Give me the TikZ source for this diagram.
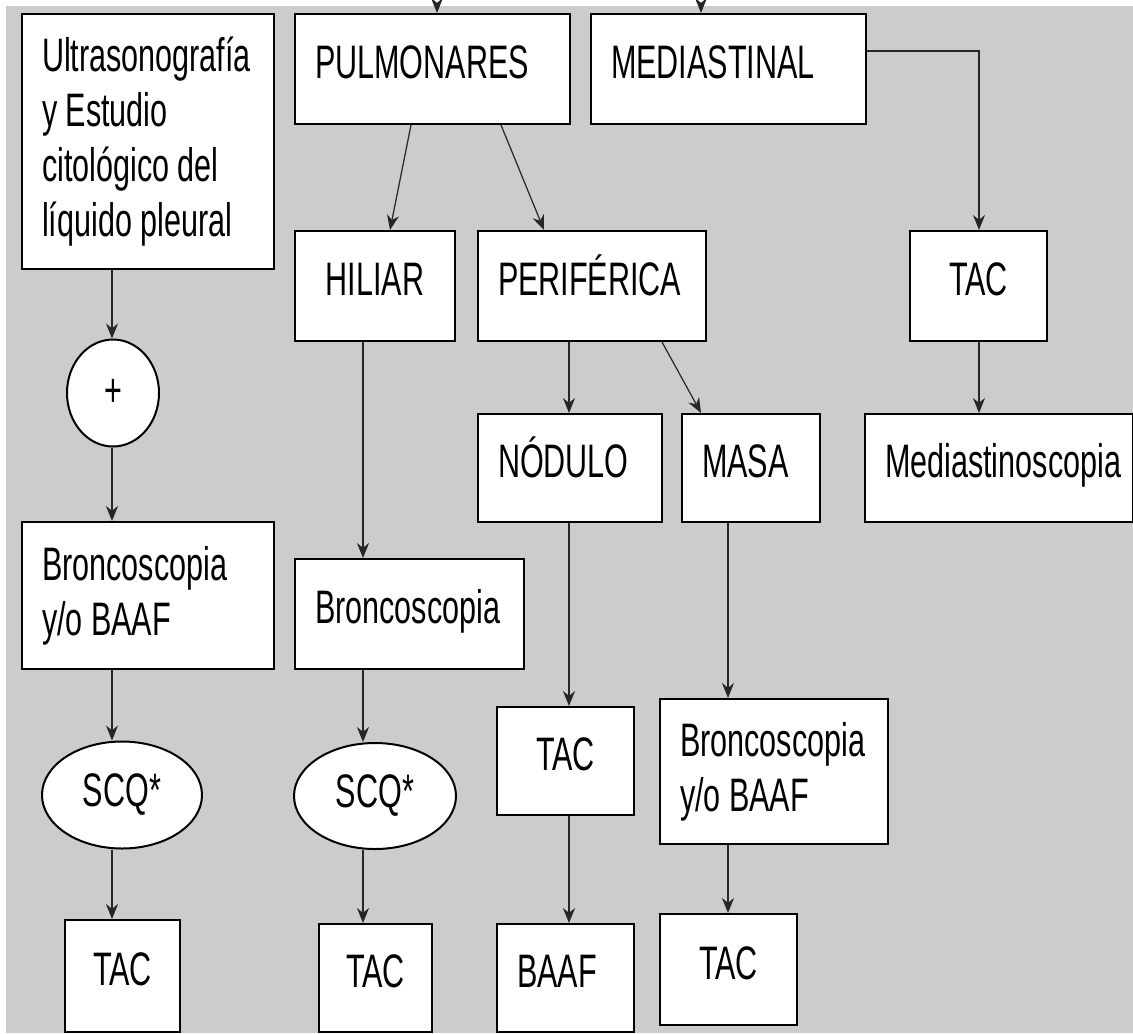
\documentclass[tikz,border=0pt]{standalone}
\usepackage{fontspec}
\setmainfont{Liberation Sans}[FakeStretch=0.65]
\usepackage{xcolor}
\usepackage{tikz}
\usetikzlibrary{positioning}
\usetikzlibrary{arrows.meta}
\usetikzlibrary{shapes.geometric}
\definecolor{fondo}{HTML}{CCCCCC}
\newcommand{\letra}{\fontsize{23.5}{27.5}\selectfont}
\hyphenpenalty=10000
\exhyphenpenalty=10000

\begin{document}
\begin{tikzpicture}[x=0.5pt,y=-0.5pt,>={Stealth[length=7.5pt,width=6pt]},
	caja/.style={rectangle,draw,fill=white,line width=1pt,anchor=north west,inner xsep=10pt,inner ysep=0pt,align=left,font=\letra,
		execute at begin node={\spaceskip=4.2pt plus 1pt minus 1pt\relax}},
	una/.style={caja,text height=17pt,text depth=7.5pt},
	elipse/.style={ellipse,draw,fill=white,line width=1pt,inner sep=0pt,font=\letra},
	flecha/.style={->,color=black!85,line width=0.6pt}] % algoritmo diagnostico
	\fill[white] (0,0) rectangle (1133,1033);
	\fill[fondo] (6,6) rectangle (1133,1033);
	\useasboundingbox (0,0) rectangle (1133,1033);
	
	% columna izquierda
	\node[caja,text width=106pt,minimum height=127.5pt] (ultra) at (21,13) {Ultrasonografía\\y Estudio\\citológico del\\líquido pleural};
	\node[elipse,minimum width=46pt,minimum height=53.5pt] (mas) at (113,393) {+};
	\node[caja,text width=106pt,minimum height=73.5pt] (bronc1) at (21,521) {Broncoscopia\\y/o BAAF};
	\node[elipse,minimum width=80pt,minimum height=53.5pt] (scq1) at (122,795) {SCQ*};
	\node[una,text width=37.5pt,minimum height=56pt,align=center] (tac1) at (64,919) {TAC};
	
	% pulmonares
	\node[una,text width=117.5pt,minimum height=55pt] (pulm) at (294,13) {PULMONARES};
	\node[una,text width=60pt,minimum height=55pt,align=center] (hiliar) at (294,230) {HILIAR};
	\node[una,text width=94pt,minimum height=55pt] (perif) at (477,230) {PERIFÉRICA};
	\node[una,text width=94.5pt,minimum height=55pt] (bronc2) at (294,558) {Broncoscopia};
	\node[elipse,minimum width=81pt,minimum height=53pt] (scq2) at (375,796) {SCQ*};
	\node[una,text width=36.5pt,minimum height=54pt,align=center] (tac2) at (318,923) {TAC};
	\node[una,text width=72pt,minimum height=54pt] (nodulo) at (477,413) {NÓDULO};
	\node[una,text width=49pt,minimum height=54pt] (masa) at (681,413) {MASA};
	\node[una,text width=48.5pt,minimum height=54pt,align=center] (tacN) at (496,706) {TAC};
	\node[una,text width=48.5pt,minimum height=54pt] (baaf) at (496,923) {BAAF};
	\node[caja,text width=94pt,minimum height=72.5pt] (bronc3) at (659,698) {Broncoscopia\\y/o BAAF};
	\node[una,text width=48.5pt,minimum height=55.5pt,align=center] (tac3) at (659,913) {TAC};
	
	% mediastinal
	\node[una,text width=117.5pt,minimum height=55pt] (mediast) at (590,13) {MEDIASTINAL};
	\node[una,text width=48.5pt,minimum height=55pt,align=center] (tacM) at (909,230) {TAC};
	\node[una,text width=114pt,minimum height=54pt] (mediasc) at (864,413) {Mediastinoscopia};
	
	\coordinate (colA) at (112,0);
	\coordinate (colB) at (363,0);
	\coordinate (colC) at (569,0);
	\coordinate (colD) at (728,0);
	\coordinate (colE) at (979,0);
	\coordinate (entP) at (437,6);
	\coordinate (entM) at (701,6);
	
	\foreach \a/\b/\c in {ultra/mas/colA,mas/bronc1/colA,bronc1/scq1/colA,scq1/tac1/colA,
		hiliar/bronc2/colB,bronc2/scq2/colB,scq2/tac2/colB,
		perif/nodulo/colC,nodulo/tacN/colC,tacN/baaf/colC,
		masa/bronc3/colD,bronc3/tac3/colD,tacM/mediasc/colE}{
		\draw[flecha] (\a.south -| \c) -- (\b.north -| \c);}
	
	\draw[flecha] ([xshift=-10.75pt]pulm.south) -- ([xshift=7.5pt]hiliar.north);
	\draw[flecha] ([xshift=34.25pt]pulm.south) -- ([xshift=-24pt]perif.north);
	\draw[flecha] ([xshift=35pt]perif.south) -- ([xshift=-25pt]masa.north);
	\draw[flecha] ([yshift=9pt]mediast.east) -| (tacM.north -| colE);
	
	% flechas que llegan desde arriba
	\draw[flecha] (entP) -- (entP |- pulm.north);
	\draw[flecha] (entM) -- (entM |- mediast.north);
\end{tikzpicture}
\end{document}
